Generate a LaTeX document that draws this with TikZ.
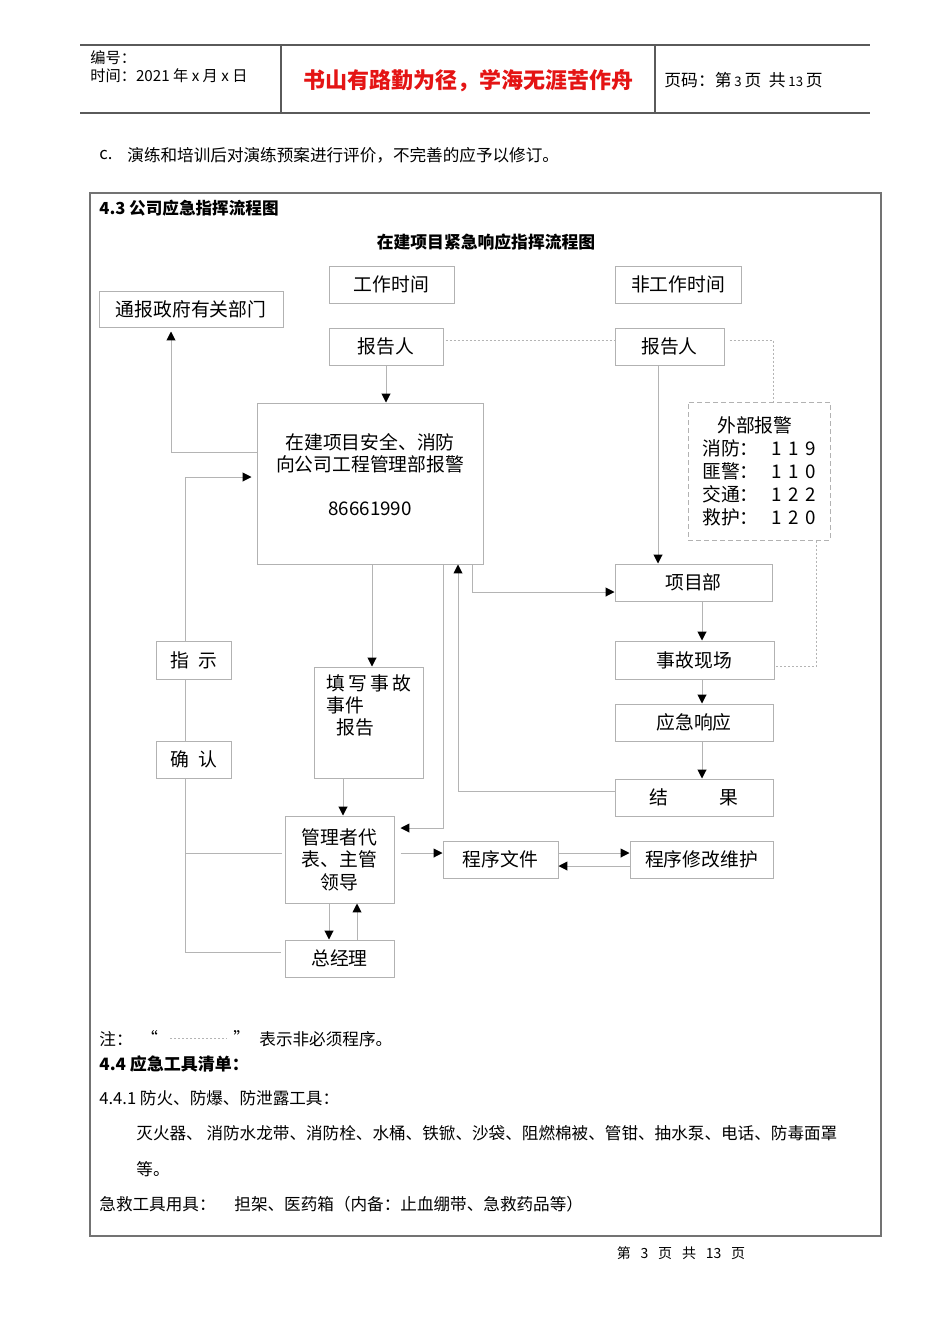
\documentclass[tikz,border=0pt]{standalone}
\usepackage{fontspec}
\setmainfont{Noto Sans CJK SC}
\usepackage{tikz}
\usetikzlibrary{arrows.meta, calc}
\usepackage{xcolor}
\definecolor{boxgray}{RGB}{178,178,178}
\definecolor{linegray}{RGB}{180,180,180}
\definecolor{framegray}{RGB}{115,115,115}
\definecolor{hdgray}{RGB}{90,90,90}
\definecolor{mottored}{RGB}{228,20,20}
\tikzset{
    % Box size in pixels of the page
    sz/.style 2 args={minimum width=#1*0.5pt, minimum height=#2*0.5pt},
    % Flow chart boxes
    flowbox/.style={rectangle, draw=boxgray, line width=0.5pt, align=center,
                inner sep=0pt, font=\fontsize{9.4}{11}\selectfont},
    extbox/.style={flowbox, dash pattern=on 2.5pt off 1.5pt},
    boxtext/.style={align=center, inner sep=0pt, font=\fontsize{9.4}{11}\selectfont},
    % Connectors
    farrow/.style={-{Triangle[length=4.4pt, width=4.4pt, color=black]},
                draw=linegray, line width=0.5pt},
    fline/.style={draw=linegray, line width=0.5pt},
    fdot/.style={draw=linegray, line width=0.5pt, dash pattern=on 1pt off 1pt},
    % Page text
    ptext/.style={anchor=west, inner sep=0pt, font=\fontsize{8.3}{10}\selectfont},
    pbold/.style={ptext, font=\fontsize{8.3}{10}\selectfont\bfseries},
    hdtext/.style={anchor=west, inner sep=0pt, font=\fontsize{7.6}{9}\selectfont},
    hdline/.style={draw=hdgray, line width=0.6pt},
}

\begin{document}
\begin{tikzpicture}[x=0.5pt, y=-0.5pt]
\useasboundingbox (0,0) rectangle (950,1344);

% page header
\draw[hdline] (80,45) -- (870,45);
\draw[hdline] (80,113) -- (870,113);
\draw[hdline] (281,45) -- (281,113);
\draw[hdline] (655,45) -- (655,113);
\node[hdtext] (hdnum) at (90,58) {编号：};
\node[hdtext] (hddate) at (90,76) {时间：2021\ 年\ x\ 月\ x\ 日};
\node[inner sep=0pt, text=mottored, font=\fontsize{11}{13}\selectfont\bfseries] (motto) at (468,81) {书山有路勤为径，学海无涯苦作舟};
\node[hdtext, font=\fontsize{8.4}{10}\selectfont] (hdpage) at (664,80)
    {页码：第\,{\fontsize{6.6}{8}\selectfont 3}\,页\ \ 共\,{\fontsize{6.6}{8}\selectfont 13}\,页};
\node[ptext] (itemc) at (99,155) {c.};
\node[ptext] (itemctxt) at (127,155) {演练和培训后对演练预案进行评价，不完善的应予以修订。};

% frame
\draw[draw=framegray, line width=1.4pt] (90,193) rectangle (881,1236);
\node[pbold] (sec43) at (99,208) {4.3 公司应急指挥流程图};
\node[inner sep=0pt, font=\fontsize{8.4}{10}\selectfont\bfseries] (charttitle) at (486,242) {在建项目紧急响应指挥流程图};

% flow chart boxes
\node[flowbox, sz={125}{37}] (work) at (391.5,284.5) {工作时间};
\node[flowbox, sz={126}{37}] (offwork) at (678,284.5) {非工作时间};
\node[flowbox, sz={184}{36}] (gov) at (191,309) {通报政府有关部门};
\node[flowbox, sz={114}{37}] (rptL) at (386,346.5) {报告人};
\node[flowbox, sz={109}{37}] (rptR) at (669.5,346.5) {报告人};
\node[extbox, sz={142}{138}, align=left, font=\fontsize{9.4}{11.5}\selectfont] (ext) at (759,471)
    {\hspace*{0.8em}外部报警\\
     消防：\hspace{0.7em}1\,\,1\,\,9\\
     匪警：\hspace{0.7em}1\,\,1\,\,0\\
     交通：\hspace{0.7em}1\,\,2\,\,2\\
     救护：\hspace{0.7em}1\,\,2\,\,0};
\node[flowbox, sz={226}{161},
    label={[boxtext, yshift=4.25pt]center:{在建项目安全、消防\\向公司工程管理部报警\\[11pt]86661990}}]
    (main) at (370,483.5) {};
\node[flowbox, sz={157}{37}] (xmb) at (693.5,582.5) {项目部};
\node[flowbox, sz={159}{38}] (scene) at (694.5,660) {事故现场};
\node[flowbox, sz={158}{37}] (resp) at (694,722.5) {应急响应};
\node[flowbox, sz={158}{37}] (result) at (694,797.5) {结\hspace{2.7em}果};
\node[flowbox, sz={75}{38}] (inst) at (193.5,660) {指\hspace{0.5em}示};
\node[flowbox, sz={75}{37}] (conf) at (193.5,759.5) {确\hspace{0.5em}认};
\node[flowbox, sz={109}{111},
    label={[boxtext, align=left, anchor=north west, xshift=6.5pt, yshift=-4pt]north west:{填\,写\,事\,故\\事件\\\hspace*{0.5em}报告}}]
    (fill) at (368.5,722.5) {};
\node[flowbox, sz={109}{87}, font=\fontsize{9.4}{11.25}\selectfont] (mgr) at (339.5,859.5) {管理者代\\表、主管\\领导};
\node[flowbox, sz={109}{37}] (gm) at (339.5,958.5) {总经理};
\node[flowbox, sz={115}{37}] (doc) at (500.5,859.5) {程序文件};
\node[flowbox, sz={143}{37}] (maint) at (701.5,859.5) {程序修改维护};

% connectors
\draw[farrow] (rptL.south) -- (rptL.south |- main.north);
\draw[farrow, shorten >=2pt] ($(main.west)+(0,-31.5)$) -| ($(gov.south)+(-20,0)$);
\draw[farrow, shorten >=2.5pt] ($(inst.north)+(-8.5,0)$) |- ($(main.west)+(0,-6.5)$);
\draw[fline] ($(inst.south)+(-8.5,0)$) -- ($(conf.north)+(-8.5,0)$);
\draw[fline] ($(conf.south)+(-8.5,0)$) |- ($(gm.west)+(-4,-6.5)$);
\draw[fline] ($(mgr.west)+(-3,-6.5)$) -- +(-97,0);
\draw[farrow] ($(main.south)+(2,0)$) -- ($(fill.north)+(3.5,0)$);
\draw[farrow] ($(fill.south)+(-25.5,0)$) -- ($(mgr.north)+(3.5,0)$);
\draw[farrow] ($(mgr.south)+(-10.5,0)$) -- ($(gm.north)+(-10.5,0)$);
\draw[farrow] ($(gm.north)+(17.5,0)$) -- ($(mgr.south)+(17.5,0)$);
\draw[farrow] ($(main.south)+(73,0)$) |- ($(mgr.east)+(6,-31.5)$);
\draw[farrow, shorten <=3pt] ($(mgr.east)+(0,-6.5)$) -- ($(doc.west)+(0,-6.5)$);
\draw[farrow] ($(doc.east)+(0,-6.5)$) -- ($(maint.west)+(0,-6.5)$);
\draw[farrow] ($(maint.west)+(0,6.5)$) -- ($(doc.east)+(0,6.5)$);
\draw[farrow] ($(result.west)+(0,-6.5)$) -| ($(main.south)+(88,0)$);
\draw[farrow] ($(main.south)+(102,0)$) |- ($(xmb.west)+(0,9.5)$);
\draw[farrow] ($(rptR.south)+(-11.5,0)$) -- ($(xmb.north)+(-35.5,0)$);
\draw[farrow] ($(xmb.south)+(8.5,0)$) -- ($(scene.north)+(7.5,0)$);
\draw[farrow] ($(scene.south)+(7.5,0)$) -- ($(resp.north)+(8,0)$);
\draw[farrow] ($(resp.south)+(8,0)$) -- ($(result.north)+(8,0)$);
% optional steps
\draw[fdot] ($(rptL.east)+(2,-6.5)$) -- ($(rptR.west)+(0,-6.5)$);
\draw[fdot] ($(rptR.east)+(5,-6.5)$) -| ($(ext.north)+(14,0)$);
\draw[fdot] ($(ext.south)+(57,0)$) |- ($(scene.east)+(0,6)$);

% notes and tool list
\node[ptext] (note) at (99,1039) {注：};
\node[ptext] (lq) at (141,1037) {“};
\node[ptext] (rq) at (233,1037) {”};
\draw[fdot] ($(lq.east)+(12,1)$) -- ($(rq.west)+(-6,1)$);
\node[ptext] (notetxt) at (259,1039) {表示非必须程序。};
\node[pbold, font=\fontsize{8.5}{10}\selectfont\bfseries] (sec44) at (99,1064) {4.4 应急工具清单：};
\node[ptext] (sec441) at (99,1098) {4.4.1 防火、防爆、防泄露工具：};
\node[ptext] (toollist) at (136,1133) {灭火器、\ 消防水龙带、消防栓、水桶、铁锨、沙袋、阻燃棉被、管钳、抽水泵、电话、防毒面罩};
\node[ptext] (toolend) at (136,1169) {等。};
\node[ptext] (aidtools) at (99,1204) {急救工具用具：};
\node[ptext] (aidlist) at (234,1204) {担架、医药箱（内备：止血绷带、急救药品等）};

% footer
\node[inner sep=0pt, font=\fontsize{7}{8}\selectfont] (footer) at (681,1253)
    {第\hspace{0.7em}3\hspace{0.7em}页\hspace{0.7em}共\hspace{0.7em}13\hspace{0.7em}页};
\end{tikzpicture}
\end{document}
